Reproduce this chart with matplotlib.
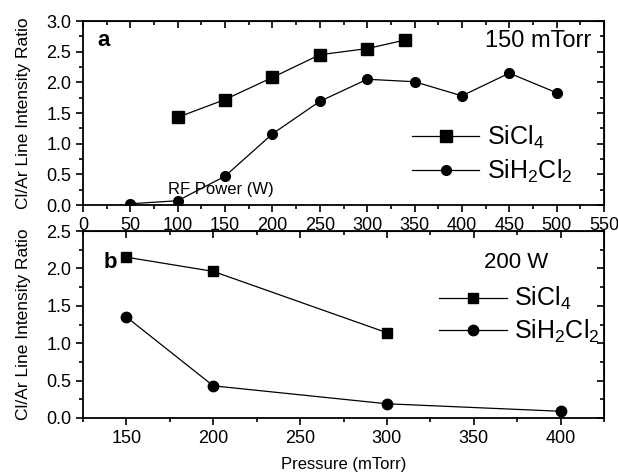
import matplotlib
matplotlib.use("Agg")
import matplotlib.pyplot as plt
from matplotlib.ticker import MultipleLocator

plt.rcParams['font.family'] = ['Liberation Sans', 'DejaVu Sans']
plt.rcParams['mathtext.fontset'] = 'custom'
plt.rcParams['mathtext.rm'] = 'Liberation Sans'

# panel a: ratio vs RF power at 150 mTorr
power_sicl4 = [100, 150, 200, 250, 300, 340]
ratio_sicl4_a = [1.43, 1.72, 2.08, 2.45, 2.55, 2.69]
power_sih2cl2 = [50, 100, 150, 200, 250, 300, 350, 400, 450, 500]
ratio_sih2cl2_a = [0.02, 0.07, 0.47, 1.16, 1.69, 2.05, 2.01, 1.78, 2.15, 1.83]

# panel b: ratio vs pressure at 200 W
press_sicl4 = [150, 200, 300]
ratio_sicl4_b = [2.15, 1.96, 1.14]
press_sih2cl2 = [150, 200, 300, 400]
ratio_sih2cl2_b = [1.35, 0.43, 0.19, 0.09]

fig = plt.figure(figsize=(6.18, 4.72), dpi=100)
W, H = 618, 472
axa = fig.add_axes([83 / W, 1 - 205 / H, (604 - 83) / W, (205 - 21) / H])
axb = fig.add_axes([83 / W, 1 - 418 / H, (604 - 83) / W, (418 - 231) / H])


def style_axes(ax, xmaj, ymaj):
    for s in ax.spines.values():
        s.set_linewidth(1.3)
    ax.xaxis.set_major_locator(MultipleLocator(xmaj))
    ax.xaxis.set_minor_locator(MultipleLocator(xmaj / 2))
    ax.yaxis.set_major_locator(MultipleLocator(ymaj))
    ax.yaxis.set_minor_locator(MultipleLocator(ymaj / 2))
    ax.tick_params(which='both', labelsize=13, width=1.2, direction='out')
    ax.tick_params(which='major', length=5)
    ax.tick_params(which='minor', length=3)
    # top and right ticks point inward, without labels
    top = ax.secondary_xaxis('top')
    right = ax.secondary_yaxis('right')
    for sec, axis, step in ((top, top.xaxis, xmaj), (right, right.yaxis, ymaj)):
        axis.set_major_locator(MultipleLocator(step))
        axis.set_minor_locator(MultipleLocator(step / 2))
        sec.tick_params(which='both', direction='in', width=1.2, labelsize=0)
        sec.tick_params(which='major', length=5)
        sec.tick_params(which='minor', length=3)
        axis.set_ticklabels([])
    ax.set_ylabel('Cl/Ar Line Intensity Ratio', fontsize=12.5)
    ax.yaxis.set_label_coords(-0.1, 0.5)


# panel a
axa.plot(power_sicl4, ratio_sicl4_a, '-s', color='black', lw=0.9, ms=8.5, label='SiCl$_4$')
axa.plot(power_sih2cl2, ratio_sih2cl2_a, '-o', color='black', lw=0.9, ms=7, label='SiH$_2$Cl$_2$')
axa.set_xlim(0, 550)
axa.set_ylim(0, 3.0)
style_axes(axa, 50, 0.5)
axa.text(0.028, 0.865, 'a', transform=axa.transAxes, fontsize=16, fontweight='bold')
axa.text(0.975, 0.86, '150 mTorr', transform=axa.transAxes, fontsize=17, ha='right')
axa.text(0.265, 0.06, 'RF Power (W)', transform=axa.transAxes, fontsize=12, ha='center')
axa.legend(loc='lower right', bbox_to_anchor=(0.983, -0.015), frameon=False, fontsize=18,
           handlelength=2.7, handletextpad=0.3, labelspacing=0.27)

# panel b
axb.plot(press_sicl4, ratio_sicl4_b, '-s', color='black', lw=0.9, ms=7, label='SiCl$_4$')
axb.plot(press_sih2cl2, ratio_sih2cl2_b, '-o', color='black', lw=0.9, ms=7.5, label='SiH$_2$Cl$_2$')
axb.set_xlim(125, 425)
axb.set_ylim(0, 2.5)
style_axes(axb, 50, 0.5)
axb.set_xlabel('Pressure (mTorr)', fontsize=12, labelpad=7)
axb.text(0.04, 0.8, 'b', transform=axb.transAxes, fontsize=16, fontweight='bold')
axb.text(0.8925, 0.8, '200 W', transform=axb.transAxes, fontsize=16, ha='right')
axb.legend(loc='upper right', bbox_to_anchor=(1.035, 0.83), frameon=False, fontsize=18,
           handlelength=2.7, handletextpad=0.3, labelspacing=0.2)

fig.savefig('out.png', dpi=100)
